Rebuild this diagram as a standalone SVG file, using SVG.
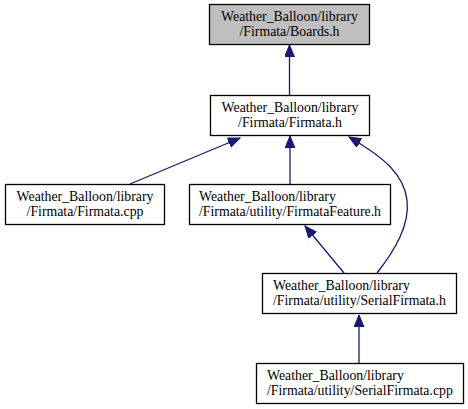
<svg xmlns="http://www.w3.org/2000/svg" width="468" height="409" viewBox="0 0 468 409">
<style>
.box{fill:#ffffff;stroke:#000000;stroke-width:1.3}
.cur{fill:#bfbfbf}
.e{fill:none;stroke:#191970;stroke-width:1.3;marker-end:url(#arr)}
</style>
<defs>
<marker id="arr" markerUnits="userSpaceOnUse" markerWidth="13" markerHeight="11" refX="12" refY="5" orient="auto" viewBox="0 0 13 11">
<path d="M0,0 L12,5 L0,10 z" fill="#191970" stroke="#191970" stroke-width="1"/>
</marker>
</defs>
<rect width="468" height="409" fill="#ffffff"/>
<g id="edges">
<path class="e" d="M289.5,95 L289.5,45"/>
<path class="e" d="M130,184 L240,138"/>
<path class="e" d="M290,184 L290,136"/>
<path class="e" d="M377,273 C395,250 410,225 407,200 C404,175 385,158 349,137"/>
<path class="e" d="M344,273 L305,226"/>
<path class="e" d="M359,363 L359,315"/>
</g>
<g font-family="Liberation Serif" font-size="13.8" fill="#000000">
<g id="node1">
<rect class="box cur" x="209.5" y="4.5" width="160" height="40"/>
<text text-anchor="middle" x="289.5" y="21">Weather_Balloon/library</text>
<text text-anchor="middle" x="289.5" y="36">/Firmata/Boards.h</text>
</g>
<g id="node2">
<rect class="box" x="210.5" y="95.5" width="159" height="40"/>
<text text-anchor="middle" x="290" y="112">Weather_Balloon/library</text>
<text text-anchor="middle" x="290" y="127">/Firmata/Firmata.h</text>
</g>
<g id="node3">
<rect class="box" x="5.5" y="184.5" width="159" height="40"/>
<text text-anchor="middle" x="85" y="201">Weather_Balloon/library</text>
<text text-anchor="middle" x="85" y="216">/Firmata/Firmata.cpp</text>
</g>
<g id="node4">
<rect class="box" x="189.5" y="184.5" width="201" height="40"/>
<text x="199" y="201">Weather_Balloon/library</text>
<text x="199" y="216">/Firmata/utility/FirmataFeature.h</text>
</g>
<g id="node5">
<rect class="box" x="262.5" y="273.5" width="194" height="40"/>
<text x="273" y="290">Weather_Balloon/library</text>
<text x="273" y="305">/Firmata/utility/SerialFirmata.h</text>
</g>
<g id="node6">
<rect class="box" x="256.5" y="363.5" width="207" height="40"/>
<text x="267" y="380">Weather_Balloon/library</text>
<text x="267" y="395">/Firmata/utility/SerialFirmata.cpp</text>
</g>
</g>
</svg>
